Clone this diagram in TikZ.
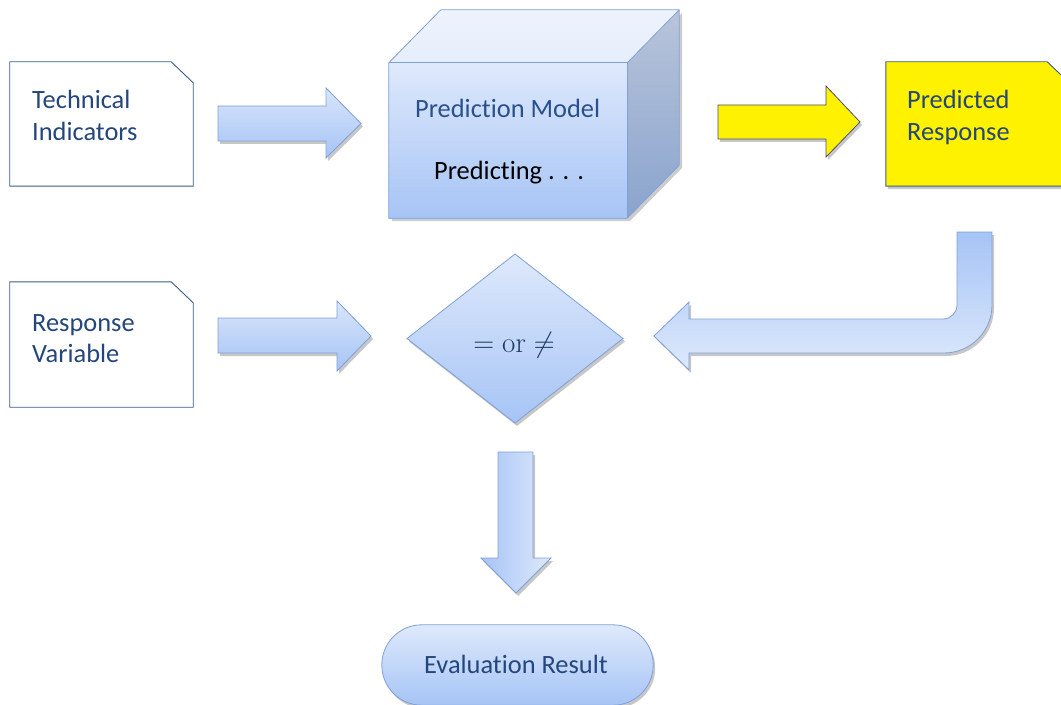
\RequirePackage{fix-cm}
\documentclass[tikz,border=0pt]{standalone}
\usepackage{fontspec}
\usetikzlibrary{shadows}
\newfontfamily\cb[Ligatures=NoCommon]{Carlito}
\definecolor{txtblue}{RGB}{36,70,122}
\definecolor{pmblue}{RGB}{42,80,140}
\definecolor{boxline}{RGB}{62,92,140}
\definecolor{edgeblue}{RGB}{128,160,215}
\definecolor{lightb}{RGB}{222,233,252}
\definecolor{darkb}{RGB}{166,196,245}
\definecolor{sidetop}{RGB}{184,196,218}
\definecolor{sidebot}{RGB}{138,164,206}
\definecolor{topface}{RGB}{230,238,252}
\tikzset{
  lbl/.style={font=\cb\fontsize{26.5}{32}\selectfont, text=txtblue, inner sep=0, anchor=base west},
  docbox/.style={draw=boxline, line width=0.9bp},
  shd/.style={drop shadow={shadow xshift=2bp, shadow yshift=-3bp, opacity=.22, fill=black}},
  barrow/.style={draw=edgeblue, line width=0.8bp, top color=lightb!90!darkb, bottom color=darkb, shd},
  blockface/.style={draw=edgeblue, line width=0.8bp},
}
\begin{document}
\begin{tikzpicture}[x=1bp,y=-1bp]
\clip (0,0) rectangle (1061,705);
\fill[white] (0,0) rectangle (1061,705);

% --- Technical Indicators
\path node (ti) [minimum width=183bp, minimum height=124bp, inner sep=0] at (101.5,124) {};
\draw[docbox] (ti.south west) -- (ti.north west) -- ([xshift=-22bp]ti.north east) -- ([yshift=-21bp]ti.north east) -- (ti.south east) -- cycle;
\node[lbl] (tit) at (32,109) {Technical};
\node[lbl] (tit2) at (32,141) {Indicators};

% --- Response Variable
\path node (rv) [minimum width=183bp, minimum height=125bp, inner sep=0] at (101.5,344.5) {};
\draw[docbox] (rv.south west) -- (rv.north west) -- ([xshift=-22bp]rv.north east) -- ([yshift=-21bp]rv.north east) -- (rv.south east) -- cycle;
\node[lbl] (rvt) at (32,331) {Response};
\node[lbl] (rvt2) at (32,362) {Variable};

% --- Predicted Response (yellow)
\path node (pr) [minimum width=183bp, minimum height=124bp, inner sep=0] at (977.5,124) {};
\draw[docbox, fill=yellow, shd] (pr.south west) -- (pr.north west) -- ([xshift=-22bp]pr.north east) -- ([yshift=-21bp]pr.north east) -- (pr.south east) -- cycle;
\node[lbl] (prt) at (907,109) {Predicted};
\node[lbl] (prt2) at (907,141) {Response};

% --- Cube (Prediction Model)
\path node (pm) [minimum width=238bp, minimum height=155bp, inner sep=0] at (508,140.5) {};
\fill[black, opacity=.2] (392,66) -- (392,221) -- (630,221) -- (682,168) -- (682,13) -- (630,66) -- cycle;
\shade[top color=lightb, bottom color=darkb] (pm.south west) rectangle (pm.north east);
\shade[top color=sidetop, bottom color=sidebot] (pm.north east) -- ([xshift=52bp,yshift=53bp]pm.north east) -- ([xshift=52bp,yshift=53bp]pm.south east) -- (pm.south east) -- cycle;
\shade[top color=topface!70!white, bottom color=topface] (pm.north west) -- ([xshift=52bp,yshift=53bp]pm.north west) -- ([xshift=52bp,yshift=53bp]pm.north east) -- (pm.north east) -- cycle;
\draw[blockface] (pm.south west) -- (pm.north west) -- ([xshift=52bp,yshift=53bp]pm.north west) -- ([xshift=52bp,yshift=53bp]pm.north east) -- ([xshift=52bp,yshift=53bp]pm.south east) -- (pm.south east) -- cycle;
\draw[blockface] (pm.north west) -- (pm.north east) -- (pm.south east);
\draw[blockface] (pm.north east) -- ([xshift=52bp,yshift=53bp]pm.north east);
\node[lbl, text=pmblue] (pmt) at (415,118) {Prediction Model};
\node[lbl, text=black] (pmt2) at (434,180) {Predicting . . .};

% --- Diamond
\coordinate (dc) at (515,338.5);
\path[shd, top color=lightb, bottom color=darkb, draw=edgeblue, line width=0.8bp] (515,254) -- (623,338.5) -- (515,423) -- (407,338.5) -- cycle;
\node (cmp) [inner sep=0, anchor=base, text=txtblue!80!black, font=\fontsize{22}{26}\selectfont] at (514,352) {\scalebox{1.32}{$=\mathrm{or}\neq$}};

% --- Evaluation Result
\path node (er) [minimum width=271bp, minimum height=80bp, inner sep=0] at (517.5,665) {};
\path[shd, rounded corners=40bp, top color=lightb, bottom color=darkb, draw=edgeblue, line width=0.8bp] (er.south west) rectangle (er.north east);
\node[lbl] (ert) at (424,673) {Evaluation Result};

% --- Block arrows
\path[barrow] (218,106) -- (326,106) -- (326,88) -- (361,123.5) -- (326,158) -- (326,141) -- (218,141) -- cycle;
\path[barrow] (218,318) -- (337,318) -- (337,301) -- (371,336) -- (337,371) -- (337,353) -- (218,353) -- cycle;
\path[draw=black!60!blue!40!gray, line width=0.8bp, fill=yellow, shd] (718,105) -- (826,105) -- (826,86) -- (860,122) -- (826,157) -- (826,139) -- (718,139) -- cycle;
\path[draw=edgeblue, line width=0.8bp, left color=darkb, right color=lightb, shd] (498,452) -- (533,452) -- (533,558) -- (551,558) -- (516,593) -- (481,558) -- (498,558) -- cycle;
\path[draw=edgeblue, line width=0.8bp, top color=darkb, bottom color=lightb, shd]
  (957,232) -- (992,232) -- (992,305) .. controls (992,331.5) and (970.5,353) .. (944,353)
  -- (689,353) -- (689,370) -- (654,336) -- (689,302) -- (689,319) -- (943,319)
  .. controls (950.7,319) and (957,312.7) .. (957,305) -- cycle;
\end{tikzpicture}
\end{document}
